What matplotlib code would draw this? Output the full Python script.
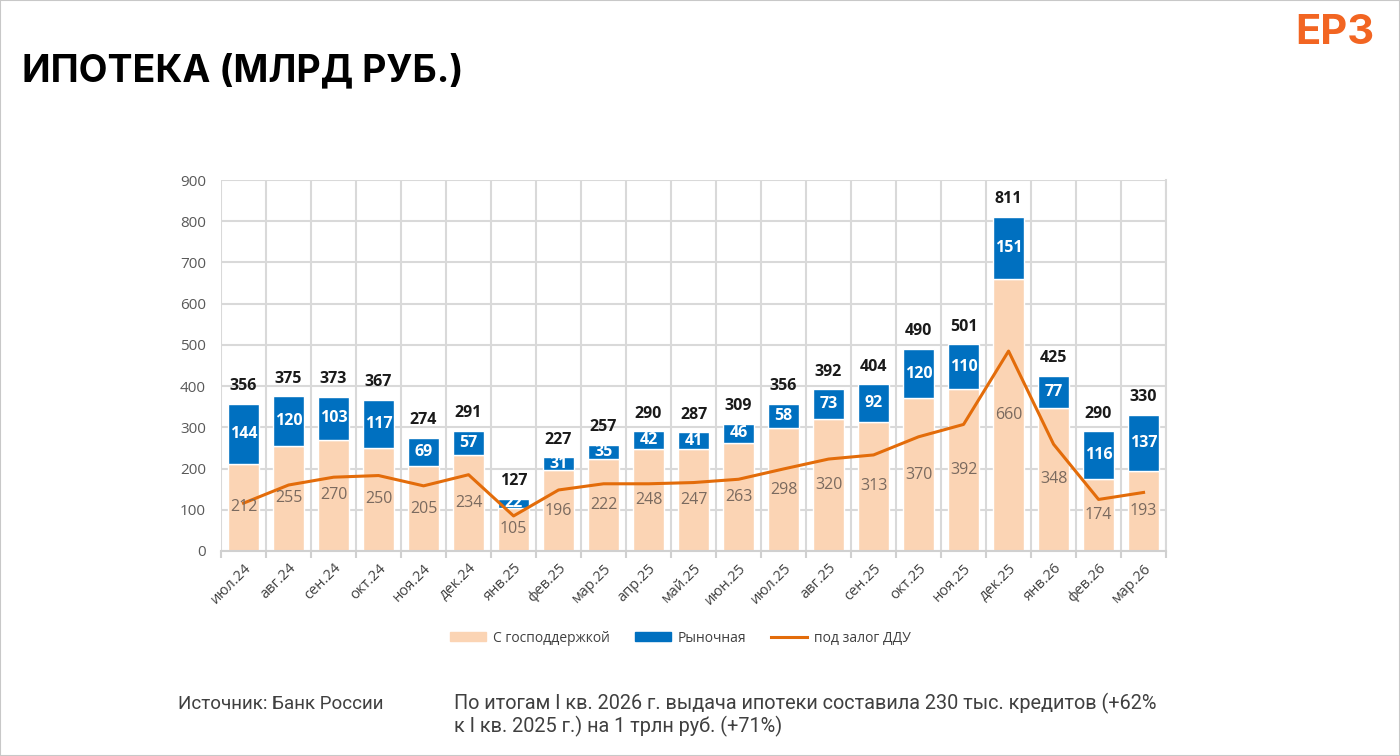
import matplotlib
matplotlib.use("Agg")
import matplotlib.pyplot as plt
import numpy as np
from matplotlib.patches import Patch
from matplotlib.lines import Line2D

plt.rcParams['font.family'] = ['Open Sans', 'DejaVu Sans']

# data
months = ['июл.24', 'авг.24', 'сен.24', 'окт.24', 'ноя.24', 'дек.24', 'янв.25',
          'фев.25', 'мар.25', 'апр.25', 'май.25', 'июн.25', 'июл.25', 'авг.25',
          'сен.25', 'окт.25', 'ноя.25', 'дек.25', 'янв.26', 'фев.26', 'мар.26']
state = [212, 255, 270, 250, 205, 234, 105, 196, 222, 248, 247, 263, 298, 320,
         313, 370, 392, 660, 348, 174, 193]
market = [144, 120, 103, 117, 69, 57, 22, 31, 35, 42, 41, 46, 58, 73,
          92, 120, 110, 151, 77, 116, 137]
totals = [356, 375, 373, 367, 274, 291, 127, 227, 257, 290, 287, 309, 356, 392,
          404, 490, 501, 811, 425, 290, 330]
ddu = [116, 160, 179, 183, 158, 185, 85, 148, 163, 163, 166, 174, 199, 223,
       233, 277, 307, 485, 259, 125, 142]

peach = '#fbd4b4'
blue = '#0070c0'
orange = '#e36c0a'

fig = plt.figure(figsize=(14, 7.56), dpi=100)
ax = fig.add_axes([0.1579, 0.2712, 0.675, 0.4907])

x = np.arange(len(months))
w = 0.67
ax.bar(x, state, w, color=peach, edgecolor='white', linewidth=1, zorder=2)
ax.bar(x, market, w, bottom=state, color=blue, edgecolor='white', linewidth=1, zorder=2)
ax.plot(x, ddu, color=orange, lw=2.2, zorder=3)

for i in range(len(x)):
    ax.text(x[i], state[i] / 2, str(state[i]), ha='center', va='center',
            fontsize=11.5, color='#7a6a5f', zorder=4)
    ax.text(x[i], state[i] + market[i] / 2, str(market[i]), ha='center', va='center',
            fontsize=11.5, color='white', fontweight='bold', zorder=4)
    ax.text(x[i], totals[i] + 24, str(totals[i]), ha='center', va='bottom',
            fontsize=11.5, color='#1a1a1a', fontweight='bold', zorder=4)

ax.set_xlim(-0.5, len(x) - 0.5)
ax.set_ylim(0, 900)
ax.set_yticks(range(0, 901, 100))
ax.set_xticks(np.arange(-0.5, len(x), 1), minor=False)
ax.set_xticklabels([])
ax.set_xticks(x, minor=True)
ax.set_xticklabels(months, minor=True, rotation=45, ha='right', rotation_mode='anchor',
                   fontsize=10.5, color='#404040')
ax.tick_params(axis='x', which='minor', length=0, pad=7)
ax.tick_params(axis='x', which='major', length=5, color='#d0d0d0', width=1.5)
ax.tick_params(axis='y', length=0, labelsize=11, labelcolor='#595959', pad=11)
ax.grid(True, which='major', color='#d9d9d9', lw=1.5, zorder=0)
ax.set_axisbelow(True)
for s in ['top', 'left']:
    ax.spines[s].set_visible(False)
ax.spines['bottom'].set_color('#d0d0d0')
ax.spines['bottom'].set_linewidth(1.5)
ax.spines['right'].set_color('#d9d9d9')
ax.spines['right'].set_linewidth(1.5)

handles = [Patch(color=peach, label='С господдержкой'),
           Patch(color=blue, label='Рыночная'),
           Line2D([0], [0], color=orange, lw=2.2, label='под залог ДДУ')]
fig.legend(handles=handles, loc='center', bbox_to_anchor=(0.486, 0.156), ncol=3,
           frameon=False, fontsize=10, handlelength=2.6, handleheight=0.6,
           handletextpad=0.5, columnspacing=1.8, labelcolor='#404040')

fig.text(0.016, 0.905, 'ИПОТЕКА (МЛРД РУБ.)', fontsize=27, fontweight='bold',
         family=['Inter', 'DejaVu Sans'], color='black', va='center')
fig.text(0.982, 0.957, 'ЕРЗ', fontsize=30, fontweight='bold',
         family=['Inter', 'DejaVu Sans'], color='#f26522', va='center', ha='right')

fig.text(0.127, 0.069, 'Источник: Банк России', fontsize=13.5, color='#404040', va='center',
         family=['Roboto', 'DejaVu Sans'])
fig.text(0.324, 0.054,
         'По итогам I кв. 2026 г. выдача ипотеки составила 230 тыс. кредитов (+62%\n'
         'к I кв. 2025 г.) на 1 трлн руб. (+71%)',
         fontsize=14.3, color='#404040', va='center', linespacing=1.15,
         family=['Roboto', 'DejaVu Sans'])

# thin frame around the slide
fig.patches.append(plt.Rectangle((0, 0), 1, 1, transform=fig.transFigure, fill=False,
                                 edgecolor='#c8c8c8', lw=1.5))

fig.savefig('out.png', dpi=100)
